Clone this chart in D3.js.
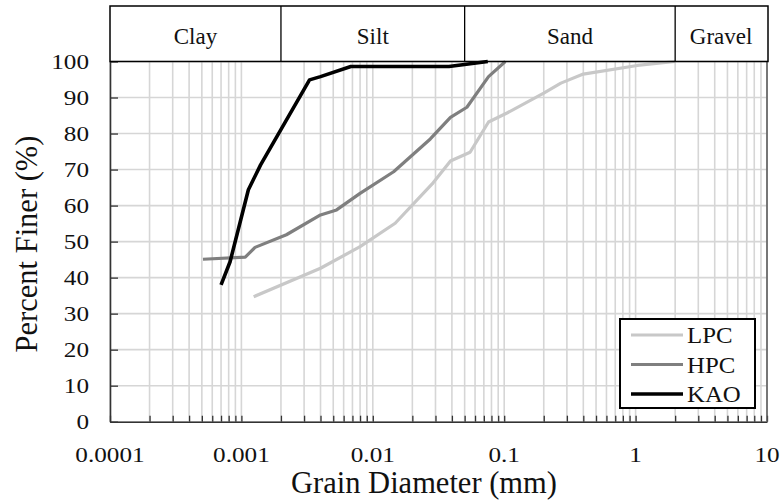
<html>
<head>
<meta http-equiv="Content-Type" content="text/html; charset=UTF-8" />
<script src="https://cdn.jsdelivr.net/npm/d3@7"></script>
<style type="text/css">
    body {
        margin: 0;
        padding: 0;
        background: #fff;
    }
    svg text {
        font-family: "Times New Roman", "Liberation Serif", serif;
        fill: #111;
    }
</style>
</head>
<body>
<svg id="chart" width="782" height="500"></svg>

<script>

// grain size (mm) and percent finer
var lpcSize = [0.00124, 0.004, 0.008, 0.0148, 0.0283, 0.039, 0.055, 0.076, 0.105, 0.2, 0.27, 0.4, 1.03, 2.0];
var lpcFiner = [34.7, 42.6, 48.6, 55.1, 66.0, 72.4, 74.8, 83.2, 85.7, 91.2, 94.0, 96.5, 98.9, 100];

var hpcSize = [0.00051, 0.00107, 0.00127, 0.0022, 0.004, 0.0053, 0.008, 0.0144, 0.0274, 0.039, 0.052, 0.076, 0.102];
var hpcFiner = [45.1, 45.7, 48.4, 51.9, 57.4, 58.8, 63.4, 69.4, 78.5, 84.5, 87.3, 95.8, 100];

var kaoSize = [0.0007, 0.00082, 0.00113, 0.0014, 0.0033, 0.004, 0.0068, 0.038, 0.075];
var kaoFiner = [38, 44.4, 64.4, 71.3, 94.9, 95.8, 98.6, 98.6, 100];

var seriesNames = ["LPC", "HPC", "KAO"];
var seriesColors = ["#c8c8c8", "#7f7f7f", "#000000"];

// soil classes across the top band
var classNames = ["Clay", "Silt", "Sand", "Gravel"];
var classBounds = [0.0001, 0.002, 0.05, 2, 10];

var xTickValues = [0.0001, 0.001, 0.01, 0.1, 1, 10];
var xTickLabels = ["0.0001", "0.001", "0.01", "0.1", "1", "10"];
var yTickValues = [0, 10, 20, 30, 40, 50, 60, 70, 80, 90, 100];

var svg = d3.select("#chart");

// (plotTop, not top: window.top is taken)
var plotLeft = 110, plotRight = 767, plotTop = 61.5, plotBottom = 421.7, bandTop = 6;

var x = d3.scaleLog().domain([0.0001, 10]).range([plotLeft, plotRight]);
var y = d3.scaleLinear().domain([0, 100]).range([plotBottom, plotTop]);

// grid
svg.append("g")
    .selectAll("line")
    .data(x.ticks())
    .enter().append("line")
    .attr("x1", function(d) { return x(d); })
    .attr("x2", function(d) { return x(d); })
    .attr("y1", plotBottom)
    .attr("y2", plotTop)
    .attr("stroke", "#d6d6d6")
    .attr("stroke-width", 1.6);

svg.append("g")
    .selectAll("line")
    .data(yTickValues)
    .enter().append("line")
    .attr("x1", plotLeft)
    .attr("x2", plotRight)
    .attr("y1", function(d) { return y(d); })
    .attr("y2", function(d) { return y(d); })
    .attr("stroke", "#d6d6d6")
    .attr("stroke-width", 1.6);

// axes, ticks point inwards
var xAxis = svg.append("g")
    .attr("transform", "translate(0," + plotBottom + ")")
    .call(d3.axisBottom(x).tickValues(x.ticks()).tickSize(-6).tickSizeOuter(0).tickFormat(""));

var yAxis = svg.append("g")
    .attr("transform", "translate(" + plotLeft + ",0)")
    .call(d3.axisLeft(y).tickValues(yTickValues).tickSize(-8).tickSizeOuter(0).tickFormat(""));

[xAxis, yAxis].forEach(function(a) {
    a.select(".domain").attr("stroke", "#333").attr("stroke-width", 1.6);
    a.selectAll(".tick line").attr("stroke", "#333").attr("stroke-width", 1.3);
});

// right edge
svg.append("line")
    .attr("x1", plotRight).attr("x2", plotRight)
    .attr("y1", plotTop).attr("y2", plotBottom)
    .attr("stroke", "#555")
    .attr("stroke-width", 1.5);

// tick labels (slightly wide, like the original)
svg.append("g")
    .selectAll("text")
    .data(xTickValues)
    .enter().append("text")
    .attr("transform", function(d) { return "translate(" + x(d) + ",461.5) scale(1.2,1)"; })
    .attr("text-anchor", "middle")
    .style("font-size", "21px")
    .text(function(d, i) { return xTickLabels[i]; });

svg.append("g")
    .selectAll("text")
    .data(yTickValues)
    .enter().append("text")
    .attr("transform", function(d) { return "translate(89," + (y(d) + 7) + ") scale(1.2,1)"; })
    .attr("text-anchor", "end")
    .style("font-size", "21px")
    .text(function(d) { return d; });

// axis titles
svg.append("text")
    .attr("x", 424)
    .attr("y", 493)
    .attr("text-anchor", "middle")
    .style("font-size", "30.5px")
    .text("Grain Diameter (mm)");

svg.append("text")
    .attr("transform", "translate(37,244) rotate(-90)")
    .attr("text-anchor", "middle")
    .style("font-size", "30.5px")
    .text("Percent Finer (%)");

// curves
var seriesData = [
    d3.zip(lpcSize, lpcFiner),
    d3.zip(hpcSize, hpcFiner),
    d3.zip(kaoSize, kaoFiner)
];

var line = d3.line()
    .x(function(d) { return x(d[0]); })
    .y(function(d) { return y(d[1]); });

svg.append("g")
    .selectAll("path")
    .data(seriesData)
    .enter().append("path")
    .attr("d", line)
    .attr("fill", "none")
    .attr("stroke", function(d, i) { return seriesColors[i]; })
    .attr("stroke-width", function(d, i) { return i == 2 ? 3.6 : 3.2; })
    .attr("stroke-linejoin", "round");

// class band on top, drawn after the curves so its bottom edge stays black
var band = svg.append("g");

band.append("rect")
    .attr("x", plotLeft)
    .attr("y", bandTop)
    .attr("width", x(classBounds[classBounds.length - 1]) + 1 - plotLeft)
    .attr("height", plotTop - bandTop)
    .attr("fill", "none")
    .attr("stroke", "#000")
    .attr("stroke-width", 1.5);

band.selectAll("line.div")
    .data(classBounds.slice(1, classBounds.length - 1))
    .enter().append("line")
    .attr("class", "div")
    .attr("x1", function(d) { return x(d); })
    .attr("x2", function(d) { return x(d); })
    .attr("y1", bandTop)
    .attr("y2", plotTop)
    .attr("stroke", "#000")
    .attr("stroke-width", 1.3);

band.selectAll("text")
    .data(classNames)
    .enter().append("text")
    .attr("x", function(d, i) { return (x(classBounds[i]) + x(classBounds[i + 1])) / 2; })
    .attr("y", 44)
    .attr("text-anchor", "middle")
    .style("font-size", "23px")
    .text(function(d) { return d; });

// legend
var legend = svg.append("g");

legend.append("rect")
    .attr("x", 620)
    .attr("y", 319)
    .attr("width", 135)
    .attr("height", 89)
    .attr("fill", "#fff")
    .attr("stroke", "#000")
    .attr("stroke-width", 2);

var item = legend.selectAll("g.item")
    .data(seriesNames)
    .enter().append("g")
    .attr("class", "item")
    .attr("transform", function(d, i) { return "translate(0," + (335 + i * 29.5) + ")"; });

item.append("line")
    .attr("x1", 631)
    .attr("x2", 683)
    .attr("stroke", function(d, i) { return seriesColors[i]; })
    .attr("stroke-width", function(d, i) { return i == 2 ? 3.6 : 3.2; });

item.append("text")
    .attr("transform", "translate(687,8) scale(1.08,1)")
    .style("font-size", "23px")
    .text(function(d) { return d; });

</script>
</body>
</html>
